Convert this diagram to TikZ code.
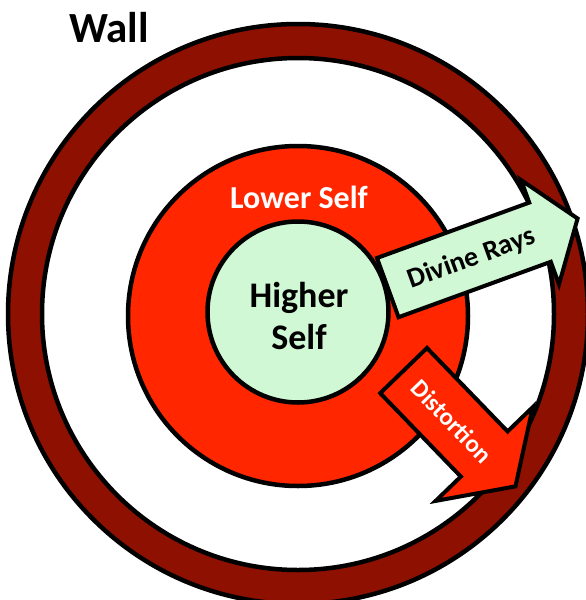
\documentclass[tikz,border=0pt]{standalone}
\usepackage{fontspec}
\setmainfont{Carlito}
\definecolor{wallred}{RGB}{142,16,0}
\definecolor{lowred}{RGB}{255,38,0}
\definecolor{highgreen}{RGB}{208,248,212}
\tikzset{
  ring/.style={circle, draw=black, line width=4.5pt, inner sep=0pt},
  arrowshape/.style={draw=black, line width=4pt, line join=miter},
  lbl/.style={font=\bfseries, inner sep=0pt, align=center}
}
\begin{document}
\begin{tikzpicture}[x=1pt,y=-1pt]
\useasboundingbox (0,0) rectangle (586,600);
\clip (0,0) rectangle (586,600);
\node[ring, fill=wallred, minimum size=580pt] (wall) at (298,314) {};
\node[ring, fill=white, minimum size=512pt] (space) at (298,314) {};
\node[ring, fill=lowred, minimum size=340pt] (lower) at (298,316) {};
\node[ring, fill=highgreen, minimum size=181pt] (higher) at (298,312) {};
\node[lbl, font=\fontsize{36}{42}\selectfont\bfseries] (highertxt) at (299,316) {Higher\\Self};
\node[lbl, text=white, font=\fontsize{32}{36}\selectfont\bfseries] (lowertxt) at (299,197) {Lower Self};
\node[lbl, font=\fontsize{43}{48}\selectfont\bfseries] (walltxt) at (109,28) {Wall};
% Divine Rays arrow
\begin{scope}[shift={(377,258)}, rotate=20]
  \draw[arrowshape, fill=highgreen] (0,0) -- (162,0) -- (162,-24) -- (202,31.5) -- (162,87) -- (162,63) -- (0,63) -- cycle;
  \node[lbl, transform shape, font=\fontsize{28}{30}\selectfont\bfseries] (divtxt) at (89,33) {Divine Rays};
\end{scope}
% Distortion arrow
\begin{scope}[shift={(427,348)}, rotate=-46]
  \draw[arrowshape, fill=lowred] (0,0) -- (116,0) -- (116,-35) -- (161,32.5) -- (116,100) -- (116,65) -- (0,65) -- cycle;
  \node[lbl, transform shape, text=white, font=\fontsize{25}{28}\selectfont\bfseries] (distxt) at (70,33) {Distortion};
\end{scope}
\end{tikzpicture}
\end{document}
